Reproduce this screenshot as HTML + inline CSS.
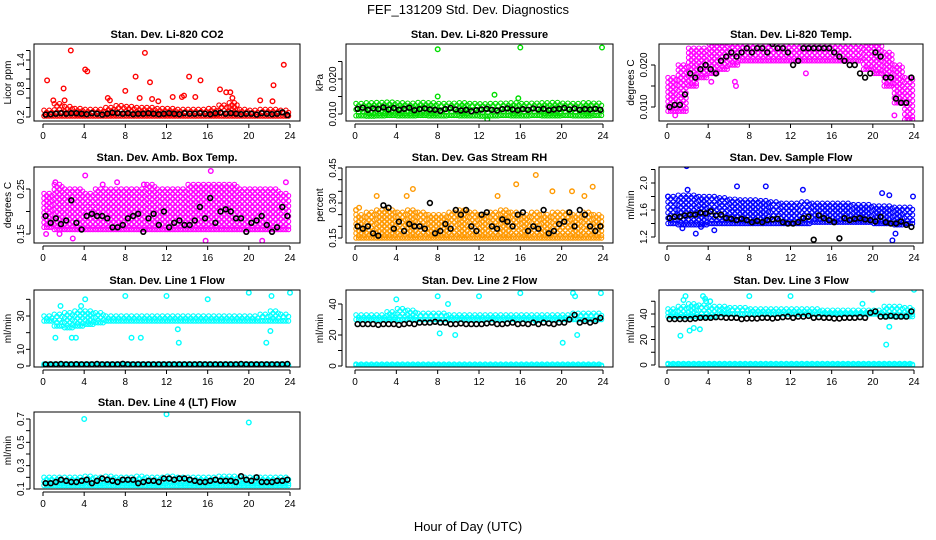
<!DOCTYPE html>
<html><head><meta charset="utf-8"><style>
body{margin:0;background:#fff;}
svg{display:block;font-family:"Liberation Sans",sans-serif;}
.t{font-size:11px;font-weight:bold;text-anchor:middle;}
.tk{font-size:10px;}
</style></head><body>
<svg id="chart" width="936" height="540" viewBox="0 0 936 540">
<text x="468" y="14" font-size="13" text-anchor="middle">FEF_131209  Std. Dev. Diagnostics</text>
<text x="468" y="531" font-size="13" text-anchor="middle">Hour of Day (UTC)</text>
</svg>
<script>
// ---- data (hourly band lower/upper bounds, outliers, half-hour black series) ----
const hourTicks=[0,4,8,12,16,20,24];
const co2Lo=[.22,.22,.22,.22,.22,.22,.22,.22,.22,.22,.22,.22,.22,.22,.22,.22,.22,.22,.22,.22,.22,.22,.22,.22,.22];
const co2Hi=[.34,.48,.42,.38,.36,.36,.4,.44,.42,.4,.4,.38,.38,.36,.36,.36,.38,.45,.5,.36,.34,.36,.36,.34,.3];
const co2OutX=[.4,1,2,2.1,2.7,4.1,4.3,6.3,6.5,8,9,9.4,9.9,10.4,10.6,11.2,12.6,13.5,13.7,14.2,14.8,15.3,17.2,17.8,18.2,18.4,21.1,22.4,22.3,23.4];
const co2OutY=[.97,.55,.8,.55,1.6,1.2,1.16,.6,.55,.75,1.05,.6,1.55,.93,.58,.53,.62,.62,.65,1.05,.62,.97,.78,.72,.72,.6,.55,.87,.53,1.3];
const co2Black=[.25,.26,.27,.28,.27,.28,.28,.27,.26,.28,.27,.25,.27,.29,.28,.27,.28,.26,.27,.27,.28,.27,.26,.27,.28,.27,.26,.28,.27,.27,.28,.27,.26,.28,.29,.27,.28,.27,.26,.27,.27,.25,.28,.27,.26,.27,.3,.24];
const presLo=[.0095,.0094,.0095,.0096,.0095,.0095,.0096,.0095,.0095,.0096,.0095,.0095,.0094,.0095,.0096,.0095,.0095,.0096,.0095,.0095,.0096,.0095,.0095,.0096,.0095];
const presHi=[.013,.0132,.0133,.0134,.0132,.0131,.0133,.0132,.013,.0131,.0132,.013,.0129,.013,.0131,.0132,.013,.0131,.0132,.0133,.0131,.013,.0132,.0131,.013];
const presOutX=[8,16,23.9,8,13.5,15.8,12.8];
const presOutY=[.0285,.029,.029,.015,.0155,.0145,.0085];
const presBlack=[.0115,.0118,.0112,.0116,.0114,.0119,.0113,.0117,.0112,.0115,.0118,.0111,.0114,.0116,.0113,.0112,.0109,.0114,.0117,.0113,.011,.0112,.0108,.0111,.0113,.0115,.0112,.011,.0114,.0116,.0113,.0111,.0114,.0112,.0116,.0113,.0115,.0111,.0113,.0115,.0117,.0113,.0116,.0112,.0114,.0113,.0115,.0112];
const tempLo=[.009,.009,.015,.017,.018,.019,.02,.021,.021,.021,.021,.021,.021,.021,.021,.021,.021,.021,.021,.019,.018,.015,.011,.007,.008];
const tempHi=[.017,.02,.024,.024,.025,.025,.026,.026,.026,.026,.026,.026,.026,.026,.026,.026,.026,.026,.026,.025,.025,.023,.02,.017,.018];
const tempOutX=[4.3,6.6,6.7,13.5,.8,23.5,22.1];
const tempOutY=[.016,.016,.015,.018,.008,.007,.008];
const tempBlack=[.010,.0105,.0105,.013,.018,.017,.019,.020,.019,.018,.021,.022,.023,.022,.023,.024,.023,.024,.024,.023,.025,.024,.024,.023,.020,.021,.024,.024,.024,.024,.024,.024,.023,.022,.021,.020,.020,.018,.017,.018,.023,.022,.017,.017,.012,.011,.011,.017];
const ambLo=[.165,.16,.16,.16,.16,.16,.16,.16,.16,.16,.16,.16,.16,.16,.16,.16,.16,.16,.16,.16,.16,.16,.16,.16,.17];
const ambHi=[.24,.26,.25,.25,.24,.25,.25,.25,.25,.25,.26,.25,.25,.25,.26,.26,.26,.26,.26,.25,.25,.25,.25,.24,.2];
const ambOutX=[.3,2.9,4.1,16.3,21.3,23.6,7.2,15.8,1.2,1.6,5.8,9.8];
const ambOutY=[.15,.14,.28,.29,.135,.265,.265,.135,.265,.15,.26,.26];
const ambBlack=[.19,.175,.185,.172,.18,.225,.175,.16,.19,.195,.19,.19,.185,.165,.165,.17,.185,.19,.195,.155,.185,.195,.17,.2,.165,.175,.18,.17,.17,.18,.21,.185,.23,.175,.2,.205,.2,.185,.185,.155,.175,.18,.19,.17,.155,.165,.21,.19];
const rhLo=[.15,.15,.15,.15,.15,.15,.15,.15,.15,.15,.15,.15,.15,.15,.15,.15,.15,.15,.15,.15,.15,.15,.15,.15,.15];
const rhHi=[.25,.26,.27,.27,.26,.27,.26,.25,.25,.26,.27,.26,.25,.26,.27,.26,.25,.26,.25,.26,.26,.25,.26,.25,.24];
const rhOutX=[.4,2.1,5,5.6,17.5,15.6,23,19.1,13.8,.1,21,22.2];
const rhOutY=[.28,.33,.33,.36,.42,.38,.37,.35,.33,.27,.35,.33];
const rhBlack=[.2,.19,.2,.17,.16,.29,.28,.19,.22,.18,.21,.2,.2,.19,.3,.17,.18,.21,.19,.27,.25,.27,.2,.18,.25,.26,.2,.19,.23,.22,.2,.25,.26,.18,.2,.19,.27,.17,.18,.21,.22,.26,.2,.27,.25,.2,.18,.2];
const flowLo=[1.4,1.38,1.38,1.38,1.4,1.4,1.4,1.4,1.4,1.4,1.4,1.4,1.4,1.4,1.42,1.42,1.42,1.42,1.42,1.42,1.4,1.4,1.38,1.4,1.42];
const flowHi=[1.8,1.82,1.82,1.8,1.8,1.78,1.76,1.75,1.75,1.74,1.72,1.7,1.7,1.72,1.7,1.7,1.7,1.7,1.68,1.68,1.66,1.66,1.64,1.64,1.62];
const flowOutX=[1.9,2,6.8,9.6,13.2,20.9,21.6,23.9,1.5,2.8,21.9,22.2,.1,3.3,4.6];
const flowOutY=[2.25,1.9,1.95,1.95,1.9,1.85,1.82,1.8,1.33,1.25,1.15,1.25,1.8,1.35,1.3];
const flowBlack=[1.48,1.5,1.5,1.52,1.53,1.53,1.56,1.55,1.58,1.52,1.53,1.48,1.47,1.45,1.47,1.45,1.42,1.44,1.42,1.45,1.46,1.47,1.42,1.4,1.4,1.42,1.48,1.5,1.16,1.52,1.48,1.45,1.42,1.18,1.48,1.45,1.47,1.48,1.46,1.45,1.43,1.5,1.42,1.4,1.4,1.43,1.38,1.35];
const l1Lo=[27,24,23,24,25,26,27,27,27,27,27,27,27,27,27,27,27,27,27,27,27,27,27,27,27];
const l1Hi=[30,31,32,33,33,32,30,30,30,30,30,30,30,30,30,30,30,30,30,30,30,31,33,31,30];
const l1OutX=[1.2,2.8,3.2,8,8.6,9.5,12,13.2,13.1,16,20,21.7,22.1,22.2,24,1.7,4.1,3.7];
const l1OutY=[17,17,17,42,17,17,42,14,22,40,44,14,21,42,44,36,40,36];
const l1Black=[1,1,1,1.2,1,1,1.1,1,1,1,1.2,1,1,1,1,1.3,1,1,1,1,1,1,1,1,1,1,1,1,1,1,1.1,1,1,1,1,1,1,1,1.2,1,1,1,1,1,1,1,1,1.2];
const l2Lo=[30,30,30,30,30,30,30,30,30,30,30,30,30,30,30,30,30,30,30,30,30,30,30,30,30];
const l2Hi=[33,33,33,35,37,36,34,34,34,33,33,33,33,33,33,33,33,33,33,33,33,34,34,34,33];
const l2OutX=[4,8,9,8.2,9.7,20.1,21.1,21.3,12,16,21.5,23.8,17.5];
const l2OutY=[43,45,40,21,20,15,47,45,45,47,20,47,29];
const l2Black=[27,27,27,27,26.5,27,27,27,26.5,27,27.5,27,28,28,28,28.5,28,28,27,27,27.5,27,27,27,27,27.5,28,27,27,27.5,28,27,27.5,27,28,27,28,27.5,27,28,28,30,33,28,29,28,29,31];
const l3Lo=[38,38,38,38,38,40,40,40,40,40,40,40,40,40,40,40,40,40,40,40,40,38,38,38,38];
const l3Hi=[44,46,48,47,46,46,45,45,44,44,44,44,44,44,44,43,43,43,43,43,43,46,46,45,44];
const l3OutX=[1.6,1.8,2.6,3.5,3.7,3.8,4.2,1.3,2.2,3.2,8,12,20,21.3,24,21.6,19];
const l3OutY=[51,54,29,54,52,50,50,23,27,28,54,54,59,16,59,30,48];
const l3Black=[36,36,36,36,36,36.5,37,37,37,37.5,37.5,37,37,37,36,36.5,36.5,36.5,37,37,36.5,37,37.5,38,37,38,38,38.5,37,37.5,37,37,36.5,36.5,37,37,37,37.5,37,41,42,38,38,38.5,38,38,38,42];
const l4Lo=[.13,.13,.13,.13,.13,.13,.13,.13,.13,.13,.13,.13,.13,.13,.13,.13,.13,.13,.13,.13,.13,.13,.13,.13,.13];
const l4Hi=[.2,.2,.2,.2,.21,.2,.21,.2,.2,.21,.2,.2,.21,.2,.2,.2,.2,.21,.21,.2,.2,.2,.2,.2,.2];
const l4OutX=[4,12,20];
const l4OutY=[.7,.74,.67];
const l4Black=[.15,.15,.16,.18,.17,.16,.16,.17,.18,.15,.17,.19,.18,.17,.16,.18,.18,.18,.15,.16,.17,.17,.16,.19,.19,.18,.19,.19,.18,.17,.16,.16,.17,.18,.17,.17,.17,.16,.21,.18,.17,.2,.16,.16,.16,.17,.17,.18];
const zeroLo=[0.5,0.5,0.5,0.5,0.5,0.5,0.5,0.5,0.5,0.5,0.5,0.5,0.5,0.5,0.5,0.5,0.5,0.5,0.5,0.5,0.5,0.5,0.5,0.5,0.5];
const zeroHi=[1.2,1.2,1.2,1.2,1.2,1.2,1.2,1.2,1.2,1.2,1.2,1.2,1.2,1.2,1.2,1.2,1.2,1.2,1.2,1.2,1.2,1.2,1.2,1.2,1.2];

// ---- layout ----
const cols=[{bx:34,bw:266,x0:43,x24:290,yl:11,tl:24},{bx:346,bw:267,x0:355,x24:603,yl:323,tl:336},{bx:659,bw:264,x0:667,x24:914,yl:634,tl:647}];
const rows=[{by:44,bh:77},{by:167,bh:76},{by:290,bh:77},{by:412,bh:77}];
const panels=[
 {name:'co2',title:'Stan. Dev. Li-820 CO2',c:0,r:0,ylab:'Licor ppm',color:'#ff0000',lo:co2Lo,hi:co2Hi,ox:co2OutX,oy:co2OutY,blk:co2Black,v0:.2,p0:117,v1:1.4,p1:60,ticks:[.2,.4,.6,.8,1,1.2,1.4,1.6],labels:['0.2','0.8','1.4']},
 {name:'pressure',title:'Stan. Dev. Li-820 Pressure',c:1,r:0,ylab:'kPa',color:'#00dd00',lo:presLo,hi:presHi,ox:presOutX,oy:presOutY,blk:presBlack,v0:.01,p0:114,v1:.02,p1:79,ticks:[.01,.015,.02,.025],labels:['0.010','0.020']},
 {name:'temp',title:'Stan. Dev. Li-820 Temp.',c:2,r:0,ylab:'degrees C',color:'#ff00ff',lo:tempLo,hi:tempHi,ox:tempOutX,oy:tempOutY,blk:tempBlack,v0:.01,p0:107,v1:.02,p1:65,ticks:[.01,.015,.02],labels:['0.010','0.020']},
 {name:'amb-temp',title:'Stan. Dev. Amb. Box Temp.',c:0,r:1,ylab:'degrees C',color:'#ff00ff',lo:ambLo,hi:ambHi,ox:ambOutX,oy:ambOutY,blk:ambBlack,v0:.15,p0:234,v1:.25,p1:189,ticks:[.15,.2,.25],labels:['0.15','0.25']},
 {name:'rh',title:'Stan. Dev. Gas Stream RH',c:1,r:1,ylab:'percent',color:'#ff9900',lo:rhLo,hi:rhHi,ox:rhOutX,oy:rhOutY,blk:rhBlack,v0:.15,p0:238,v1:.45,p1:168,ticks:[.15,.2,.25,.3,.35,.4,.45],labels:['0.15','0.30','0.45']},
 {name:'sample-flow',title:'Stan. Dev. Sample Flow',c:2,r:1,ylab:'ml/min',color:'#0000ff',lo:flowLo,hi:flowHi,ox:flowOutX,oy:flowOutY,blk:flowBlack,v0:1.2,p0:237,v1:2.0,p1:183,ticks:[1.2,1.4,1.6,1.8,2.0,2.2],labels:['1.2','1.6','2.0']},
 {name:'line1-flow',title:'Stan. Dev. Line 1 Flow',c:0,r:2,ylab:'ml/min',color:'#00ffff',lo:l1Lo,hi:l1Hi,ox:l1OutX,oy:l1OutY,blk:l1Black,zero:true,v0:0,p0:366,v1:30,p1:316,ticks:[0,10,20,30,40],labels:['0','10','30']},
 {name:'line2-flow',title:'Stan. Dev. Line 2 Flow',c:1,r:2,ylab:'ml/min',color:'#00ffff',lo:l2Lo,hi:l2Hi,ox:l2OutX,oy:l2OutY,blk:l2Black,zero:true,v0:0,p0:366,v1:40,p1:304,ticks:[0,10,20,30,40],labels:['0','20','40']},
 {name:'line3-flow',title:'Stan. Dev. Line 3 Flow',c:2,r:2,ylab:'ml/min',color:'#00ffff',lo:l3Lo,hi:l3Hi,ox:l3OutX,oy:l3OutY,blk:l3Black,zero:true,v0:0,p0:365,v1:40,p1:314,ticks:[0,10,20,30,40,50],labels:['0','20','40']},
 {name:'line4-flow',title:'Stan. Dev. Line 4 (LT) Flow',c:0,r:3,ylab:'ml/min',color:'#00ffff',lo:l4Lo,hi:l4Hi,ox:l4OutX,oy:l4OutY,blk:l4Black,v0:.1,p0:489,v1:.7,p1:419,ticks:[.1,.2,.3,.4,.5,.6,.7],labels:['0.1','0.3','0.5','0.7']}
];
const NS='http://www.w3.org/2000/svg';
const svg=document.getElementById('chart');
function mk(tag,attrs,parent){const e=document.createElementNS(NS,tag);for(const k in attrs)e.setAttribute(k,attrs[k]);(parent||svg).appendChild(e);return e;}
panels.forEach(p=>{
 const C=cols[p.c],R=rows[p.r];
 const xs=h=>C.x0+(C.x24-C.x0)*h/24;
 const ys=v=>p.p0+(v-p.v0)*(p.p1-p.p0)/(p.v1-p.v0);
 const g=mk('g',{});
 
 
 const cl=mk('clipPath',{id:'cp-'+p.name},g);
 mk('rect',{x:C.bx,y:R.by,width:C.bw,height:R.bh},cl);
 const pts=mk('g',{'clip-path':'url(#cp-'+p.name+')','fill':'none','stroke-width':'1.1'},g);
 
 
 function band(lo,hi,color){
  for(let h=0;h<24;h++){
   for(let j=0;j<4;j++){
    const x=xs(h+j/4+0.1);
    const yA=ys(lo[h]),yB=ys(hi[h]);
    const top=Math.min(yA,yB),bot=Math.max(yA,yB);
    const n=Math.max(1,Math.round((bot-top)/5));
    for(let k=0;k<=n;k++){
     const y=top+(bot-top)*k/n+((j%2)?2.2:0)*(k<n?1:0);
     const c=mk('circle',{cx:x.toFixed(1),cy:y.toFixed(1),r:2.2,stroke:color},pts);
     
     
    }
   }
  }
 }
 if(p.zero) band(zeroLo,zeroHi,p.color);
 band(p.lo,p.hi,p.color);
 p.ox.forEach((h,i)=>{
  const c=mk('circle',{cx:xs(h).toFixed(1),cy:ys(p.oy[i]).toFixed(1),r:2.3,stroke:p.color,'stroke-width':1.4},pts);
  
  
 });
 p.blk.forEach((v,i)=>{
  const c=mk('circle',{cx:xs(0.25+0.5*i).toFixed(1),cy:ys(v).toFixed(1),r:2.4,stroke:'#000','stroke-width':1.6},pts);
  
  
 });
 const box=mk('rect',{x:C.bx,y:R.by,width:C.bw,height:R.bh,fill:'none',stroke:'#000','stroke-width':1},g);
 
 
 const t=mk('text',{x:C.bx+C.bw/2,y:R.by-6,class:'t'},g);
 t.textContent=p.title;
 
 
 const ay=R.by+R.bh+3;
 const xa=mk('g',{stroke:'#000'},g);
 
 
 mk('line',{x1:xs(0),x2:xs(24),y1:ay,y2:ay},xa);
 hourTicks.forEach(h=>{
  mk('line',{x1:xs(h),x2:xs(h),y1:ay,y2:ay+4},xa);
  const tt=mk('text',{x:xs(h),y:ay+15,class:'tk','text-anchor':'middle',stroke:'none'},xa);
  tt.textContent=h;
  
  
 });
 const ax=C.bx-4;
 const ya=mk('g',{stroke:'#000'},g);
 
 
 const tv=p.ticks.filter(v=>ys(v)>=R.by-8&&ys(v)<=R.by+R.bh+1);
 mk('line',{x1:ax,x2:ax,y1:ys(tv[0]),y2:ys(tv[tv.length-1])},ya);
 tv.forEach(v=>mk('line',{x1:ax-4,x2:ax,y1:ys(v),y2:ys(v)},ya));
 p.labels.forEach(l=>{
  const y=ys(parseFloat(l));
  const tt=mk('text',{x:C.tl,y:y,class:'tk','text-anchor':'middle',transform:`rotate(-90 ${C.tl} ${y})`,stroke:'none'},ya);
  tt.textContent=l;
  
  
 });
 const yc=R.by+R.bh/2;
 const yl=mk('text',{x:C.yl,y:yc,class:'tk','text-anchor':'middle',transform:`rotate(-90 ${C.yl} ${yc})`},g);
 yl.textContent=p.ylab;
 
 
});
</script>
</body></html>
